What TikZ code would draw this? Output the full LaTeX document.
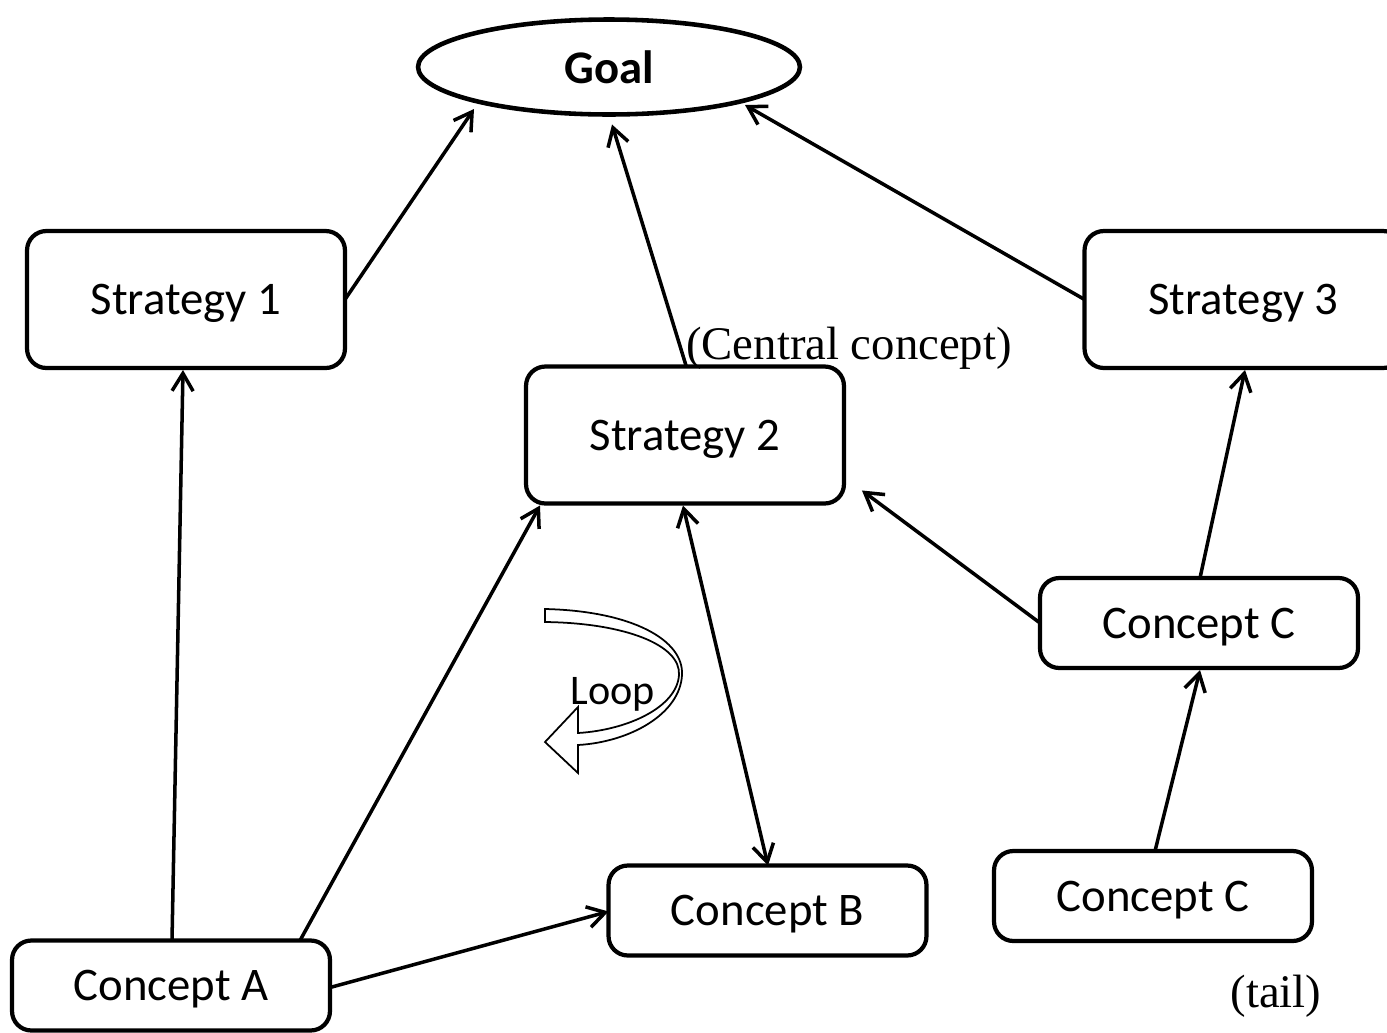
\documentclass[tikz,border=0pt]{standalone}
\usepackage{fontspec}
\setmainfont{Carlito}
\newfontfamily\serifnote{Liberation Serif}
\usetikzlibrary{shapes.geometric,arrows.meta}
\begin{document}
\begin{tikzpicture}[x=0.02cm,y=-0.02cm,
  every node/.style={inner sep=0pt,outer sep=0pt},
  box/.style={draw,line width=2.4pt,rounded corners=11pt,minimum width=6.36cm,
    font=\fontsize{26.6}{32}\selectfont,text height=22pt,text depth=4.6pt},
  tallbox/.style={box,minimum height=2.74cm},
  flatbox/.style={box,minimum height=1.8cm},
  goalshape/.style={draw,ellipse,line width=2.6pt,minimum width=7.64cm,minimum height=1.9cm,
    font=\fontsize{26.6}{32}\selectfont\bfseries},
  note/.style={font=\serifnote\fontsize{26.6}{32}\selectfont},
  link/.style={line width=2pt,-{Straight Barb[length=10pt,width=12pt,line width=2pt]}},
  twoway/.style={line width=2pt,{Straight Barb[length=10pt,width=12pt,line width=2pt]}-{Straight Barb[length=10pt,width=12pt,line width=2pt]}}
]
\useasboundingbox (0,0) rectangle (1387,1032);
\clip (0,0) rectangle (1387,1032);

% nodes
\node[goalshape] (goal) at (609,67) {Goal};
\node[tallbox] (s1) at (186,299.5) {Strategy 1};
\node[tallbox] (s2) at (685,435) {Strategy 2};
\node[tallbox] (s3) at (1243.5,299.5) {Strategy 3};
\node[flatbox] (cup) at (1199,623) {Concept C};
\node[flatbox] (clow) at (1153,896) {Concept C};
\node[flatbox] (cb) at (767.5,910.5) {Concept B};
\node[flatbox] (ca) at (171,985.5) {Concept A};

% free labels
\node[note] (central) at (849,348) {(Central concept)};
\node[note] (tail) at (1276,996) {(tail)};

% curved block arrow marking the loop
\draw[line width=1pt,fill=white]
  (545,609) .. controls (632,611) and (684,640) .. (682,675)
  .. controls (680,714) and (630,742) .. (578,745)
  -- (578,773) -- (545,742) -- (578,707) -- (578,733)
  .. controls (628,730) and (677,707) .. (679,675)
  .. controls (681,645) and (625,623) .. (545,622) -- cycle;
\node[font=\fontsize{24}{28}\selectfont] (loop) at (613,694) {Loop};

% connectors
\draw[link] (s1.east) -- ([shift={(-135,42)}]goal.center);
\draw[link] ([shift={(1,-1)}]s2.north) -- ([shift={(3,10)}]goal.south);
\draw[link] (s3.west) -- ([shift={(136,38)}]goal.center);
\draw[link] ([shift={(1,0)}]ca.north) -- ([shift={(-3,2)}]s1.south);
\draw[link] ([shift={(129,0)}]ca.north) -- ([shift={(-145,2)}]s2.south);
\draw[link] ([shift={(0,2)}]ca.east) -- ([shift={(0,1)}]cb.west);
\draw[twoway] ([shift={(-2,2)}]s2.south) -- ([shift={(0.5,0)}]cb.north);
\draw[link] (cup.west) -- ([shift={(18,-13)}]s2.south east);
\draw[link] ([shift={(1,0)}]cup.north) -- ([shift={(1.5,2)}]s3.south);
\draw[link] ([shift={(2,0)}]clow.north) -- ([shift={(1,2)}]cup.south);
\end{tikzpicture}
\end{document}
